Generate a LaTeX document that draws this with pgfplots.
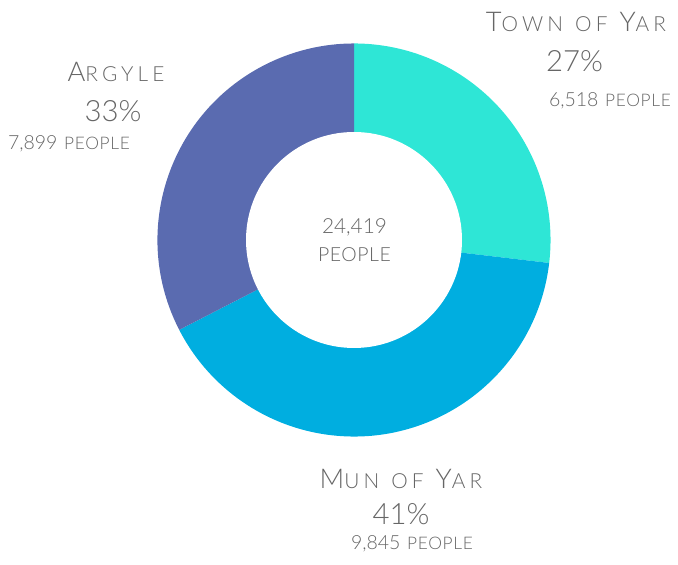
\documentclass[border=0pt]{standalone}
\usepackage{pgfplots}
\usepackage{pgfplotstable}
\usepackage{fontspec}
\pgfplotsset{compat=1.18}
\setmainfont{Lato Light}
\definecolor{townc}{HTML}{2EE6D6}
\definecolor{munc}{HTML}{00AEE0}
\definecolor{argc}{HTML}{5A6BB0}
\definecolor{txt}{HTML}{666666}

% population by area
\pgfplotstableread{
name value
Town 6518
Mun 9845
Argyle 7899
}\pietable

\pgfplotstablegetelem{0}{value}\of\pietable \let\va\pgfplotsretval
\pgfplotstablegetelem{1}{value}\of\pietable \let\vb\pgfplotsretval
\pgfplotstablegetelem{2}{value}\of\pietable \let\vc\pgfplotsretval
% work in thousands, pgfmath overflows past 16383
\pgfmathsetmacro\tot{\va/1000+\vb/1000+\vc/1000}
\pgfmathsetmacro\aA{90}
\pgfmathsetmacro\aB{90-360*(\va/1000)/\tot}
\pgfmathsetmacro\aC{\aB-360*(\vb/1000)/\tot}
\pgfmathsetmacro\aD{\aC-360*(\vc/1000)/\tot}

\newcommand\bigc[1]{{\fontsize{20.4pt}{24pt}\selectfont\addfontfeatures{LetterSpace=14}#1}}
\newcommand\sml[1]{{\fontsize{15.6pt}{18pt}\selectfont\addfontfeatures{LetterSpace=20}#1}}
\newcommand\pct[1]{{\fontsize{22pt}{26pt}\selectfont #1}}
\newcommand\ppl[2]{{\fontsize{14.6pt}{17pt}\selectfont #1}\hspace{5pt}{\fontsize{13pt}{15pt}\selectfont\addfontfeatures{LetterSpace=4}#2}}
\newcommand\gap{\hspace{9pt}}

\begin{document}
\begin{tikzpicture}
\begin{axis}[
    hide axis,
    clip=false,
    x=0.75pt, y=0.75pt,
    xmin=0, xmax=678, ymin=0, ymax=564,
]
\coordinate (ll) at (axis cs:0,0);
\coordinate (ur) at (axis cs:678,564);
% wedges, clockwise from the top
\fill[townc] (axis cs:354,324) -- ++(\aA:147.4pt) arc[start angle=\aA, end angle=\aB, radius=147.4pt] -- cycle;
\fill[munc] (axis cs:354,324) -- ++(\aB:147.4pt) arc[start angle=\aB, end angle=\aC, radius=147.4pt] -- cycle;
\fill[argc] (axis cs:354,324) -- ++(\aC:147.4pt) arc[start angle=\aC, end angle=\aD, radius=147.4pt] -- cycle;
\fill[white] (axis cs:354,324) circle[radius=81pt];

\begin{scope}[every node/.style={text=txt, anchor=base, inner sep=0pt}]
\node at (axis cs:576,532.5) {\bigc{T}\sml{OWN}\gap\sml{OF}\gap\bigc{Y}\sml{AR}};
\node at (axis cs:574.5,492) {\pct{27\%}};
\node at (axis cs:610,457) {\ppl{6,518}{PEOPLE}};

\node at (axis cs:116,482.3) {\bigc{A}\sml{RGYLE}};
\node at (axis cs:113,442.3) {\pct{33\%}};
\node at (axis cs:69,414) {\ppl{7,899}{PEOPLE}};

\node at (axis cs:401,75.5) {\bigc{M}\sml{UN}\gap\sml{OF}\gap\bigc{Y}\sml{AR}};
\node at (axis cs:401,39) {\pct{41\%}};
\node at (axis cs:412,14) {\ppl{9,845}{PEOPLE}};

\node at (axis cs:354.5,330) {\fontsize{15.6pt}{19pt}\selectfont 24,419};
\node at (axis cs:354.5,302) {\fontsize{14.6pt}{17pt}\selectfont\addfontfeatures{LetterSpace=3}PEOPLE};
\end{scope}
\end{axis}
\pgfresetboundingbox
\path (ll) rectangle (ur);
\end{tikzpicture}
\end{document}
